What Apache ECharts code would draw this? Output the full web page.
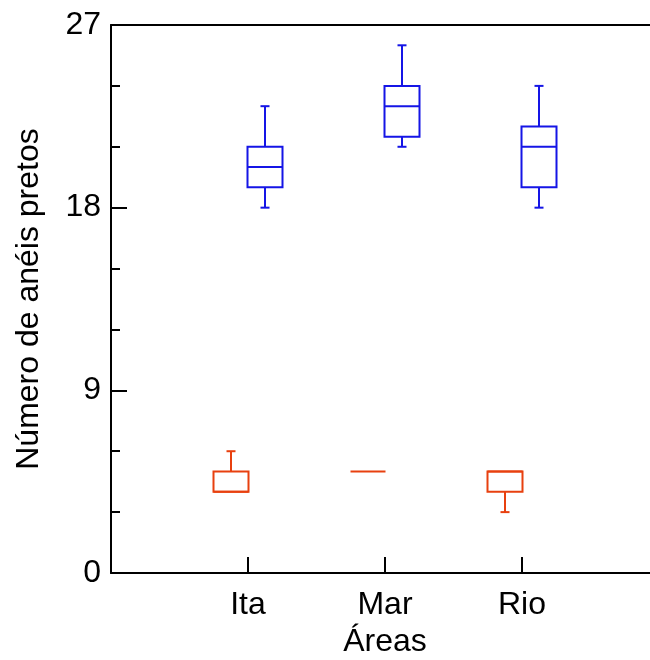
<!DOCTYPE html>
<html>
<head>
<meta charset="utf-8">
<script src="https://cdn.jsdelivr.net/npm/echarts/dist/echarts.min.js"></script>
<style>html,body{margin:0;padding:0;background:#fff}#c{width:650px;height:660px}</style>
</head>
<body>
<div id="c"></div>
<script>
// ---- data ----
const xTickLabels = ['', 'Ita', 'Mar', 'Rio', ''];
const categories = ['Ita', 'Mar', 'Rio'];
// [min, Q1, median, Q3, max]
const redStats = [[4, 4, 4, 5, 6], [5, 5, 5, 5, 5], [3, 4, 5, 5, 5]];
const blueStats = [[18, 19, 20, 21, 23], [21, 21.5, 23, 24, 26], [18, 19, 21, 22, 24]];
const yMin = 0, yMax = 27, yInterval = 9;

const FONT = 'Liberation Sans, Arial, sans-serif';
const FS = 32;

function toData(stats) {
  return stats.map((s, i) => [xTickLabels.indexOf(categories[i])].concat(s));
}

function makeRender(color, offset) {
  const hw = 17.5, cap = 4.5;
  return function (params, api) {
    const cx = api.coord([api.value(0), 0])[0] + offset;
    const y = v => api.coord([api.value(0), v])[1];
    const yMinP = y(api.value(1)), yQ1 = y(api.value(2)), yMed = y(api.value(3)),
          yQ3 = y(api.value(4)), yMaxP = y(api.value(5));
    const st = { stroke: color, lineWidth: 2, fill: null };
    const line = (x1, y1, x2, y2) => ({ type: 'line', shape: { x1, y1, x2, y2 }, style: st });
    const children = [];
    if (Math.abs(yQ1 - yQ3) < 0.5) {
      children.push(line(cx - hw, yQ1, cx + hw, yQ1));
    } else {
      children.push({ type: 'rect', shape: { x: cx - hw, y: yQ3, width: 2 * hw, height: yQ1 - yQ3 }, style: { stroke: color, lineWidth: 2, fill: 'none' } });
      children.push(line(cx - hw, yMed, cx + hw, yMed));
    }
    if (Math.abs(yMaxP - yQ3) > 0.5) {
      children.push(line(cx, yQ3, cx, yMaxP));
      children.push(line(cx - cap, yMaxP, cx + cap, yMaxP));
    }
    if (Math.abs(yMinP - yQ1) > 0.5) {
      children.push(line(cx, yQ1, cx, yMinP));
      children.push(line(cx - cap, yMinP, cx + cap, yMinP));
    }
    return { type: 'group', children };
  };
}

const chart = echarts.init(document.getElementById('c'), null, { renderer: 'canvas' });
chart.setOption({
  animation: false,
  backgroundColor: '#fff',
  grid: { left: 111, top: 25, width: 548, height: 548, containLabel: false, outerBoundsMode: 'none' },
  xAxis: [{
    type: 'category', data: xTickLabels, boundaryGap: false, position: 'bottom',
    axisLine: { show: true, lineStyle: { color: '#000', width: 2 } },
    axisTick: { show: true, inside: true, length: 16, lineStyle: { color: '#000', width: 2 } },
    axisLabel: { show: true, interval: 0, color: '#000', fontSize: FS, fontFamily: FONT, margin: 16 },
    splitLine: { show: false },
    name: 'Áreas', nameLocation: 'middle', nameGap: 52,
    nameTextStyle: { color: '#000', fontSize: FS, fontFamily: FONT }
  }, {
    type: 'category', data: xTickLabels, boundaryGap: false, position: 'top',
    axisLine: { show: true, lineStyle: { color: '#000', width: 2 } },
    axisTick: { show: false }, axisLabel: { show: false }, splitLine: { show: false }
  }],
  yAxis: {
    type: 'value', min: yMin, max: yMax, interval: yInterval,
    axisLine: { show: true, lineStyle: { color: '#000', width: 2 } },
    axisTick: { show: true, inside: true, length: 16, lineStyle: { color: '#000', width: 2 } },
    minorTick: { show: true, splitNumber: 3, length: 9, lineStyle: { color: '#000', width: 2 } },
    axisLabel: { color: '#000', fontSize: FS, fontFamily: FONT, margin: 10 },
    splitLine: { show: false },
    name: 'Número de anéis pretos', nameLocation: 'middle', nameGap: 66, nameRotate: 90,
    nameTextStyle: { color: '#000', fontSize: FS, fontFamily: FONT }
  },
  series: [{
    type: 'custom', name: 'red', xAxisIndex: 0, renderItem: makeRender('#e8400f', -17),
    encode: { x: 0, y: [1, 2, 3, 4, 5] }, data: toData(redStats), clip: false
  }, {
    type: 'custom', name: 'blue', xAxisIndex: 0, renderItem: makeRender('#1515e6', 17),
    encode: { x: 0, y: [1, 2, 3, 4, 5] }, data: toData(blueStats), clip: false
  }]
});
</script>
</body>
</html>
